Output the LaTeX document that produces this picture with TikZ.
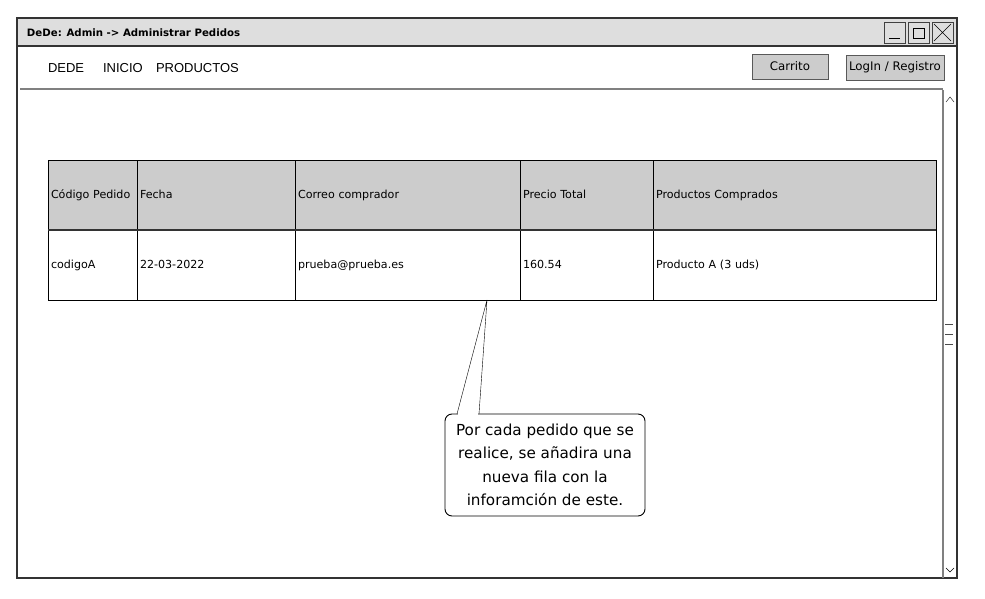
\documentclass[tikz,border=0pt]{standalone}
\usepackage{fontspec}
\setmainfont{DejaVu Sans}
\newfontfamily\navfont{Liberation Sans}
\usetikzlibrary{positioning}

\definecolor{barGray}{HTML}{DEDEDE}
\definecolor{headGray}{HTML}{CCCCCC}
\definecolor{lineGray}{HTML}{808080}

\begin{document}
\begin{tikzpicture}[
        x=1pt, y=-1pt,
        every node/.style={inner sep=0pt, outer sep=0pt},
        winbtn/.style={draw=black!75, fill=barGray, minimum width=21pt, minimum height=21pt, anchor=north west},
        navlink/.style={font=\navfont\fontsize{13}{15}\selectfont, anchor=base west},
        button/.style={draw=black!65, fill=headGray, minimum height=25pt, anchor=north west,
                font=\fontsize{11.8}{13}\selectfont},
        cell/.style={draw, minimum height=70pt, inner xsep=3pt, align=left, text height=8.5pt, text depth=2.5pt,
                font=\fontsize{11.1}{13}\selectfont},
        headcell/.style={cell, fill=headGray},
        callout/.style={draw=black, line width=0.9pt, fill=white, rounded corners=7pt, minimum width=200pt,
                minimum height=102pt, align=center, font=\fontsize{15.2}{23.5}\selectfont}
        ]

        % window
        \useasboundingbox (0,0) rectangle (985,599);
        \node[draw=black!80, line width=1.2pt, minimum width=940pt, minimum height=560pt, anchor=north west]
        (window) at (17,18) {};
        \node[draw=black!80, line width=1.2pt, fill=barGray, minimum width=940pt, minimum height=28pt, anchor=north west]
        (titlebar) at (17,18) {};
        \node[anchor=west, font=\bfseries\fontsize{10.2}{12}\selectfont] (title) at (27,33) {DeDe: Admin -> Administrar Pedidos};

        \node[winbtn] (minbtn) at (884,22) {};
        \node[winbtn] (maxbtn) at (908,22) {};
        \node[winbtn] (closebtn) at (932,22) {};
        \draw (889,38) -- (900,38);
        \draw (913,28) rectangle (924,38);
        \draw (934,24) -- (951,41) (951,24) -- (934,41);

        % menu
        \node[navlink] (dede) at (48,73) {DEDE};
        \node[navlink] (inicio) at (103,73) {INICIO};
        \node[navlink] (productos) at (156,73) {PRODUCTOS};

        \node[button, minimum width=76pt] (carrito) at (752,54) {Carrito};
        \node[button, minimum width=98pt] (login) at (846,55) {LogIn / Registro};

        \draw[lineGray, line width=2pt] (20,89) -- (943,89);

        % scrollbar
        \draw[lineGray, line width=1.5pt] (943,90) -- (943,578);
        \draw (946,102) -- (950,97) -- (954,102);
        \draw (946,568) -- (950,572) -- (954,568);
        \foreach \y in {324,334,344}
        \draw[black!70] (945,\y) -- (953,\y);

        % table
        \node[headcell, text width=83pt, anchor=north west] (hCodigo) at (48,160) {C\'odigo Pedido};
        \node[headcell, text width=152pt, right=0pt of hCodigo] (hFecha) {Fecha};
        \node[headcell, text width=219pt, right=0pt of hFecha] (hCorreo) {Correo comprador};
        \node[headcell, text width=127pt, right=0pt of hCorreo] (hPrecio) {Precio Total};
        \node[headcell, text width=277pt, right=0pt of hPrecio] (hProductos) {Productos Comprados};

        \node[cell, text width=83pt, below=0pt of hCodigo] (codigo) {codigoA};
        \node[cell, text width=152pt, right=0pt of codigo] (fecha) {22-03-2022};
        \node[cell, text width=219pt, right=0pt of fecha] (correo) {prueba@prueba.es};
        \node[cell, text width=127pt, right=0pt of correo] (precio) {160.54};
        \node[cell, text width=277pt, right=0pt of precio] (productos) {Producto A (3 uds)};

        \draw[black!80, line width=1.6pt] (hCodigo.south west) -- (hProductos.south east);

        % note
        \node[callout] (nota) at (545,465)
        {Por cada pedido que se\\realice, se a\~nadira una\\nueva fila con la\\inforamci\'on de este.};
        \coordinate (tip) at (487,300);
        \draw[white, line width=2pt] ([xshift=12.8pt]nota.north west) -- ([xshift=33.2pt]nota.north west);
        \draw ([xshift=12pt]nota.north west) -- (tip) -- ([xshift=34pt]nota.north west);

      \end{tikzpicture}
\end{document}
